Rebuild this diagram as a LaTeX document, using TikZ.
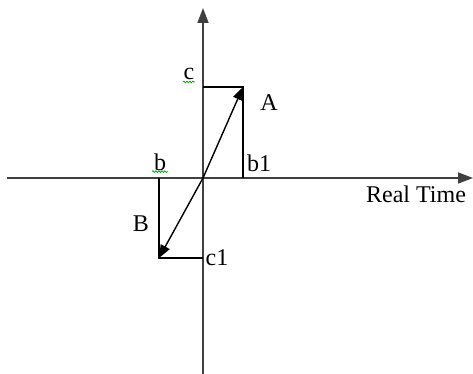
\documentclass[tikz,border=0pt]{standalone}
\usepackage{fontspec}
\setmainfont{Liberation Serif}
\usetikzlibrary{arrows.meta,decorations.pathmorphing}

\begin{document}
\begin{tikzpicture}[
    x=1pt, y=1pt,
    every node/.style={font=\fontsize{24}{28}\selectfont, inner sep=0pt},
    axis/.style={-{Triangle[length=15pt,width=11pt]}, line width=1.6pt, black!75},
    vec/.style={-{Triangle[length=13pt,width=10pt]}, line width=1.4pt},
    part/.style={line width=1.5pt},
    squiggle/.style={green!60!black, line width=0.7pt,
        decorate, decoration={snake, amplitude=0.9pt, segment length=3pt}},
]
\useasboundingbox (-203,-196) rectangle (270,178);

% Axes
\coordinate (O) at (0,0);
\coordinate (west) at (-196,0);
\coordinate (east) at (270,0);
\coordinate (south) at (0,-196);
\coordinate (north) at (0,170);
\draw[axis] (west) -- (east);
\draw[axis] (south) -- (north);
\node (rt) at (213,-16) {Real Time};

% Vector A and its parts
\coordinate (ta) at (40,91);
\coordinate (ca) at (0,91);
\coordinate (ba) at (40,0);
\draw[part] (ca) -- (ta) -- (ba);
\draw[vec] (O) -- (ta);
\node (c) at (-14,104) {c};
\node (a) at (66,75) {A};
\node (b1) at (56,15) {b1};

% Vector B and its parts
\coordinate (tb) at (-44,-80);
\coordinate (bb) at (-44,0);
\coordinate (cb) at (0,-80);
\draw[part] (bb) -- (tb) -- (cb);
\draw[vec] (O) -- (tb);
\node (b) at (-43,16) {b};
\node (bl) at (-62,-46) {B};
\node (c1) at (14,-80) {c1};

% Spell-check marks
\draw[squiggle] ([xshift=-6pt,yshift=-2pt]c.south) -- ([xshift=6pt,yshift=-2pt]c.south);
\draw[squiggle] ([xshift=-8pt,yshift=-1pt]b.south) -- ([xshift=8pt,yshift=-1pt]b.south);

\end{tikzpicture}
\end{document}
